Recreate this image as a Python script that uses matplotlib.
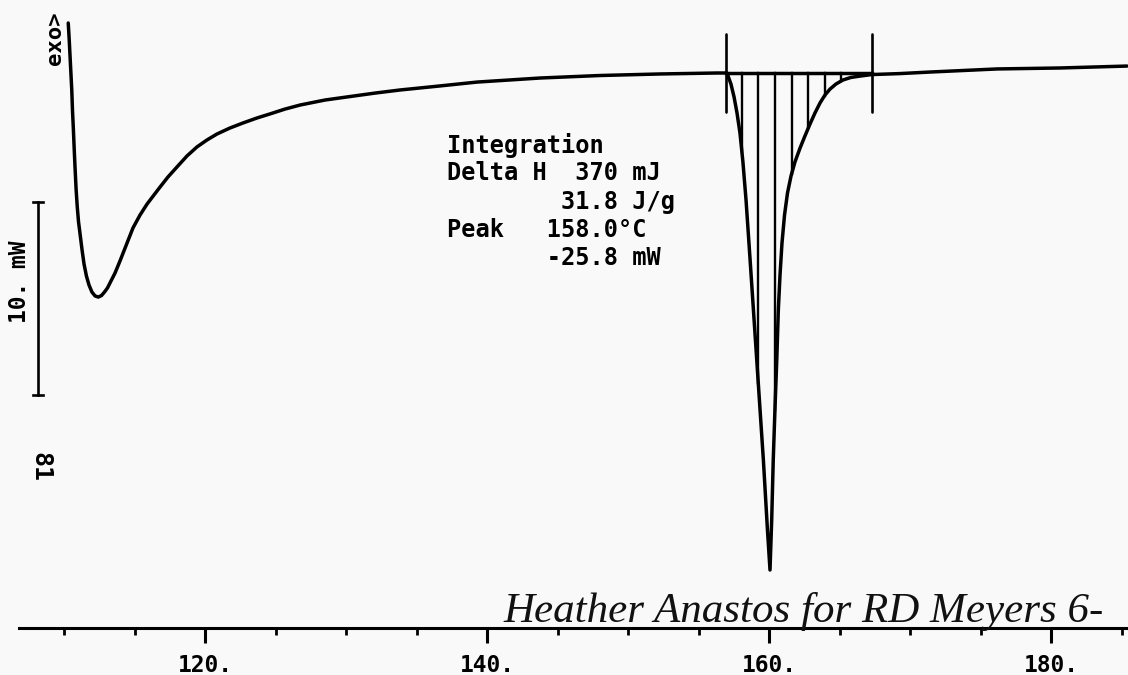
import numpy as np
import matplotlib
matplotlib.use("Agg")
import matplotlib.pyplot as plt
from matplotlib.ticker import MultipleLocator, FuncFormatter

# ---- data (temperature in deg C, heat flow in mW, baseline = 0)
temp = [110.30, 110.37, 110.46, 110.55, 110.60, 110.66, 110.72, 110.78, 110.86, 110.94,
        111.03, 111.13, 111.28, 111.42, 111.59, 111.77, 111.98, 112.20, 112.43, 112.66,
        112.87, 113.08, 113.26, 113.62, 113.97, 114.47, 114.89, 115.39, 115.89, 116.38,
        116.81, 117.37, 118.01, 118.72, 119.43, 120.14, 120.85, 121.77, 122.69, 123.69,
        124.61, 125.67, 126.74, 128.51, 130.28, 132.06, 133.83, 136.67, 139.29, 143.76,
        148.01, 152.27, 156.31, 157.02,
        157.30, 157.52, 157.73, 157.94, 158.15, 158.37, 158.65, 159.13, 159.60, 159.89,
        160.07,
        160.19, 160.30, 160.42, 160.55, 160.66, 160.78, 160.92, 161.10, 161.31, 161.56,
        161.84, 162.20, 162.55, 162.91, 163.26, 163.62, 163.97, 164.33, 164.75, 165.25,
        165.81, 166.45, 167.30, 169.29, 171.42, 176.17, 180.64, 185.39]
heat = [2.59, 1.71, 0.41, -0.88, -1.92, -2.85, -3.89, -4.87, -6.06, -6.94,
        -7.72, -8.29, -9.17, -9.90, -10.52, -10.98, -11.35, -11.55, -11.61, -11.53,
        -11.35, -11.14, -10.88, -10.36, -9.74, -8.81, -8.03, -7.36, -6.79, -6.32,
        -5.91, -5.39, -4.87, -4.30, -3.83, -3.47, -3.16, -2.85, -2.59, -2.33,
        -2.12, -1.87, -1.66, -1.40, -1.22, -1.04, -0.88, -0.67, -0.47, -0.26,
        -0.13, -0.05, 0.00, 0.00,
        -0.57, -1.24, -2.07, -3.11, -4.61, -6.58, -9.59, -14.87, -20.05, -23.68,
        -25.75,
        -23.16, -20.05, -17.46, -14.87, -12.28, -10.47, -8.81, -7.36, -6.22, -5.34,
        -4.61, -3.89, -3.26, -2.64, -2.07, -1.55, -1.14, -0.83, -0.57, -0.36,
        -0.23, -0.16, -0.08, -0.03, 0.05, 0.21, 0.26, 0.36]

integ_start = 156.95
integ_end = 167.30
hatch_temps = [158.08, 159.24, 160.42, 161.61, 162.79, 163.94, 165.11]

major_ticks = [120, 140, 160, 180]
annotation_lines = ["Integration",
                    "Delta H  370 mJ",
                    "        31.8 J/g",
                    "Peak   158.0\u00b0C",
                    "       -25.8 mW"]
scale_mw = 10.0

# ---- figure
W, H = 1128, 675
fig = plt.figure(figsize=(W / 100, H / 100), dpi=100)
bg = "#f9f9f9"
fig.patch.set_facecolor(bg)
ax = fig.add_axes([0, 0, 1, 1])
ax.set_facecolor(bg)

x0, x1 = 105.46, 105.46 + W / 14.1
y_top, y_bot = 73 / 19.3, (73 - H) / 19.3
ax.set_xlim(x0, x1)
ax.set_ylim(y_bot, y_top)

mono = "DejaVu Sans Mono"
lw = 2.5

# main curve
ax.plot(temp, heat, color="black", lw=lw, solid_joinstyle="round", solid_capstyle="round")

# integration baseline and limits
ax.plot([integ_start, integ_end], [0, 0], color="black", lw=lw)
for t in (integ_start, integ_end):
    ax.plot([t, t], [2.0, -2.0], color="black", lw=1.9, solid_capstyle="round")

# hatching
for t in hatch_temps:
    yv = np.interp(t, temp, heat)
    ax.plot([t, t], [0, yv], color="black", lw=1.7)

# x axis like a plotter axis
for s in ("left", "right", "top"):
    ax.spines[s].set_visible(False)
ax.spines["bottom"].set_position(("data", (73 - 628) / 19.3))
ax.spines["bottom"].set_linewidth(2.2)
ax.spines["bottom"].set_bounds(106.8, x1)
ax.set_yticks([])
ax.set_xticks(major_ticks)
ax.xaxis.set_minor_locator(MultipleLocator(5))
ax.xaxis.set_major_formatter(FuncFormatter(lambda v, p: f"{v:.0f}."))
ax.tick_params(axis="x", which="major", direction="out", length=10.5, width=2.2, pad=8)
ax.tick_params(axis="x", which="minor", direction="out", length=5, width=2.0)
for lab in ax.get_xticklabels():
    lab.set_fontfamily(mono)
    lab.set_fontweight("bold")
    lab.set_fontsize(16.5)

# scale bar (10 mW)
sb_x = 108.16
sb_top, sb_bot = (73 - 202) / 19.3, (73 - 202) / 19.3 - scale_mw
ax.plot([sb_x, sb_x], [sb_top, sb_bot], color="black", lw=1.9)
for yy in (sb_top, sb_bot):
    ax.plot([sb_x - 0.38, sb_x + 0.38], [yy, yy], color="black", lw=1.9)

def px(x, y):
    return x / W, 1 - y / H

ax.text(*px(19, 282), "10. mW", transform=ax.transAxes, rotation=90, ha="center",
        va="center", family=mono, weight="bold", fontsize=16.5)
ax.text(*px(55, 38), "exo>", transform=ax.transAxes, rotation=90, ha="center",
        va="center", family=mono, weight="bold", fontsize=16)
ax.text(*px(40, 467), "81", transform=ax.transAxes, rotation=-90, ha="center",
        va="center", family=mono, weight="bold", fontsize=18)

# annotation block
for i, line in enumerate(annotation_lines):
    ax.text(*px(447, 145 + i * 28.3), line, transform=ax.transAxes, ha="left",
            va="center", family=mono, weight="bold", fontsize=17)

# handwritten note
ax.text(*px(503, 622), "Heather Anastos for RD Meyers 6-", transform=ax.transAxes,
        ha="left", va="baseline", family="Liberation Serif", style="italic",
        fontsize=31, color="#111111")

fig.savefig("out.png", dpi=100, facecolor=bg)
